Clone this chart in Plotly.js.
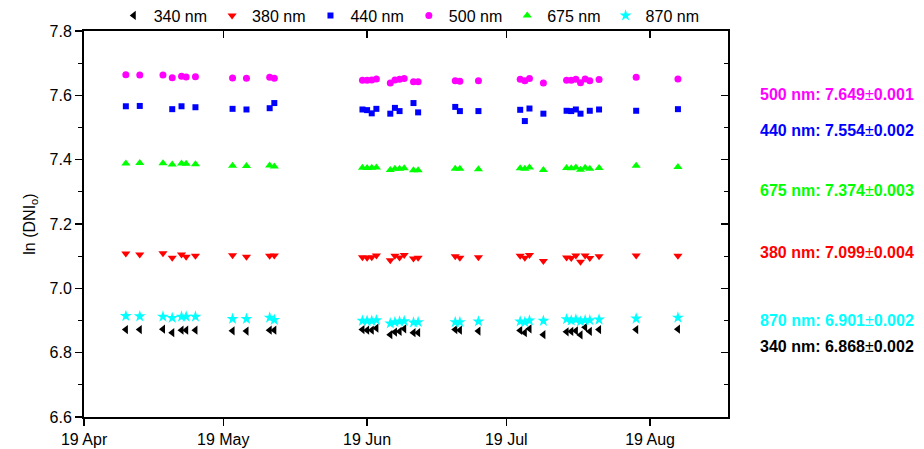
<!DOCTYPE html>
<html>
<head>
<meta charset="utf-8">
<script src="https://cdn.plot.ly/plotly-3.0.1.min.js"></script>
<style>
html,body{margin:0;padding:0;background:#fff;}
#chart{width:924px;height:449px;}
</style>
</head>
<body>
<div id="chart"></div>
<script>
// Measurement dates
const dates = [
  "2013-04-28","2013-05-01","2013-05-06","2013-05-08","2013-05-10","2013-05-11","2013-05-13",
  "2013-05-21","2013-05-24","2013-05-29","2013-05-30",
  "2013-06-18","2013-06-19","2013-06-20","2013-06-21","2013-06-24","2013-06-25","2013-06-26","2013-06-27",
  "2013-06-29","2013-06-30","2013-07-08","2013-07-09","2013-07-13",
  "2013-07-22","2013-07-23","2013-07-24","2013-07-27",
  "2013-08-01","2013-08-02","2013-08-03","2013-08-04","2013-08-05","2013-08-06","2013-08-08",
  "2013-08-16","2013-08-25"
];

const v340 = [6.872,6.872,6.873,6.862,6.870,6.870,6.870,6.868,6.867,6.870,6.870,
  6.872,6.870,6.870,6.876,6.856,6.864,6.866,6.874,6.862,6.862,6.872,6.870,6.867,
  6.869,6.862,6.874,6.856,6.865,6.866,6.868,6.855,6.879,6.866,6.872,6.872,6.873];
const v380 = [7.108,7.105,7.109,7.095,7.105,7.098,7.101,7.103,7.098,7.101,7.102,
  7.097,7.095,7.097,7.102,7.087,7.101,7.096,7.104,7.093,7.095,7.100,7.095,7.097,
  7.101,7.095,7.104,7.085,7.096,7.094,7.102,7.083,7.102,7.094,7.100,7.102,7.101];
const v440 = [7.566,7.567,null,7.557,7.566,null,7.563,7.558,7.556,7.560,7.576,
  7.556,7.554,7.544,7.558,7.543,7.561,7.551,null,7.576,7.547,7.564,7.551,7.551,
  7.555,7.520,7.559,7.543,7.552,7.551,7.556,7.543,null,7.552,7.556,7.552,7.557];
const v500 = [7.664,7.663,7.663,7.655,7.659,7.657,7.658,7.654,7.653,7.656,7.653,
  7.647,7.647,7.648,7.651,7.638,7.648,7.650,7.652,7.642,7.642,7.645,7.644,7.645,
  7.650,7.645,7.652,7.638,7.647,7.647,7.650,7.639,7.651,7.645,7.649,7.656,7.651];
const v675 = [7.388,7.390,7.389,7.385,7.388,7.387,7.386,7.381,7.380,7.382,7.379,
  7.375,7.374,7.375,7.376,7.368,7.372,7.372,7.373,7.367,7.367,7.372,7.372,7.370,
  7.373,7.372,7.376,7.368,7.374,7.373,7.376,7.369,7.375,7.372,7.374,7.381,7.377];
const v870 = [6.914,6.913,6.912,6.908,6.912,6.912,6.912,6.905,6.905,6.909,6.902,
  6.899,6.899,6.899,6.901,6.891,6.895,6.897,6.898,6.894,6.895,6.895,6.895,6.897,
  6.897,6.895,6.900,6.899,6.904,6.900,6.903,6.897,6.901,6.901,6.903,6.906,6.909];

const seriesNames = ["340 nm","380 nm","440 nm","500 nm","675 nm","870 nm"];
const seriesValues = [v340,v380,v440,v500,v675,v870];
const seriesColors = ["#000000","#ff0000","#0000ff","#ff00ff","#00ff00","#00ffff"];
const seriesSymbols = ["triangle-left","triangle-down","square","circle","triangle-up","star"];
const seriesSizes = [8,8,6,7,8,9];

// Fitted means shown at right: [wavelength label, mean, uncertainty]
const labelNames = ["500 nm","440 nm","675 nm","380 nm","870 nm","340 nm"];
const labelMeans = ["7.649","7.554","7.374","7.099","6.901","6.868"];
const labelErrs  = ["0.001","0.002","0.003","0.004","0.002","0.002"];
const labelColors = ["#ff00ff","#0000ff","#00ff00","#ff0000","#00ffff","#000000"];
const labelY = [7.603,7.492,7.303,7.110,6.901,6.818];

const xRange = ["2013-04-18 23:30","2013-09-04 19:00"];
const yRange = [6.6,7.8];

const FONT = "Liberation Sans, Arial, sans-serif";

const traces = seriesNames.map((n,i)=>({
  type:"scatter", mode:"markers", name:n, x:dates, y:seriesValues[i],
  marker:{symbol:seriesSymbols[i], color:seriesColors[i], size:seriesSizes[i], line:{width:0}},
  cliponaxis:false
}));
traces.push({type:"scatter", mode:"markers", x:[], y:[], xaxis:"x2", yaxis:"y", showlegend:false, hoverinfo:"skip"});
traces.push({type:"scatter", mode:"markers", x:[], y:[], xaxis:"x", yaxis:"y2", showlegend:false, hoverinfo:"skip"});

const annotations = labelNames.map((n,i)=>({
  xref:"paper", yref:"y", x:1.1688, y:labelY[i],
  text:"<b>"+n+": "+labelMeans[i]+"</b>±<b>"+labelErrs[i]+"</b>",
  showarrow:false, xanchor:"center", yanchor:"middle",
  font:{family:FONT, size:16, color:labelColors[i]}
}));

const layout = {
  width:924, height:449,
  margin:{l:83.5, r:195.8, t:31, b:32.3, pad:0, autoexpand:false},
  paper_bgcolor:"#fff", plot_bgcolor:"#fff",
  font:{family:FONT, size:16, color:"#000"},
  showlegend:true,
  legend:{orientation:"h", x:0.505, xanchor:"center", y:1.04, yanchor:"middle",
    font:{family:FONT, size:16, color:"#000"}, bgcolor:"rgba(0,0,0,0)", borderwidth:0, itemwidth:30},
  xaxis:{type:"date", range:xRange, tick0:"2013-04-19", dtick:"M1", tickformat:"%d %b",
    ticks:"outside", ticklen:7, tickwidth:1.5, tickcolor:"#000",
    showline:true, linewidth:2, linecolor:"#000", showgrid:false, zeroline:false,
    tickfont:{family:FONT, size:16, color:"#000"}},
  xaxis2:{type:"date", range:xRange, tick0:"2013-04-19", dtick:"M1", overlaying:"x", side:"top", anchor:"y",
    ticks:"inside", ticklen:7, tickwidth:1.5, tickcolor:"#000", showticklabels:false,
    showline:true, linewidth:2, linecolor:"#000", showgrid:false, zeroline:false},
  yaxis:{range:yRange, dtick:0.2, tick0:6.6, tickformat:".1f",
    ticks:"outside", ticklen:7, tickwidth:1.5, tickcolor:"#000",
    minor:{ticks:"outside", ticklen:4, tickwidth:1, tickcolor:"#000", dtick:0.1, tick0:6.6, showgrid:false},
    showline:true, linewidth:2, linecolor:"#000", showgrid:false, zeroline:false,
    tickfont:{family:FONT, size:16, color:"#000"},
    title:{text:"ln (DNI<sub>o</sub>)", font:{family:FONT, size:16, color:"#000"}, standoff:10}},
  yaxis2:{range:yRange, dtick:0.2, tick0:6.6, overlaying:"y", side:"right", anchor:"x",
    ticks:"inside", ticklen:7, tickwidth:1.5, tickcolor:"#000", showticklabels:false,
    minor:{ticks:"inside", ticklen:4, tickwidth:1, tickcolor:"#000", dtick:0.1, tick0:6.6, showgrid:false},
    showline:true, linewidth:2, linecolor:"#000", showgrid:false, zeroline:false},
  annotations:annotations
};

Plotly.newPlot("chart", traces, layout, {displayModeBar:false, staticPlot:true});
</script>
</body>
</html>
